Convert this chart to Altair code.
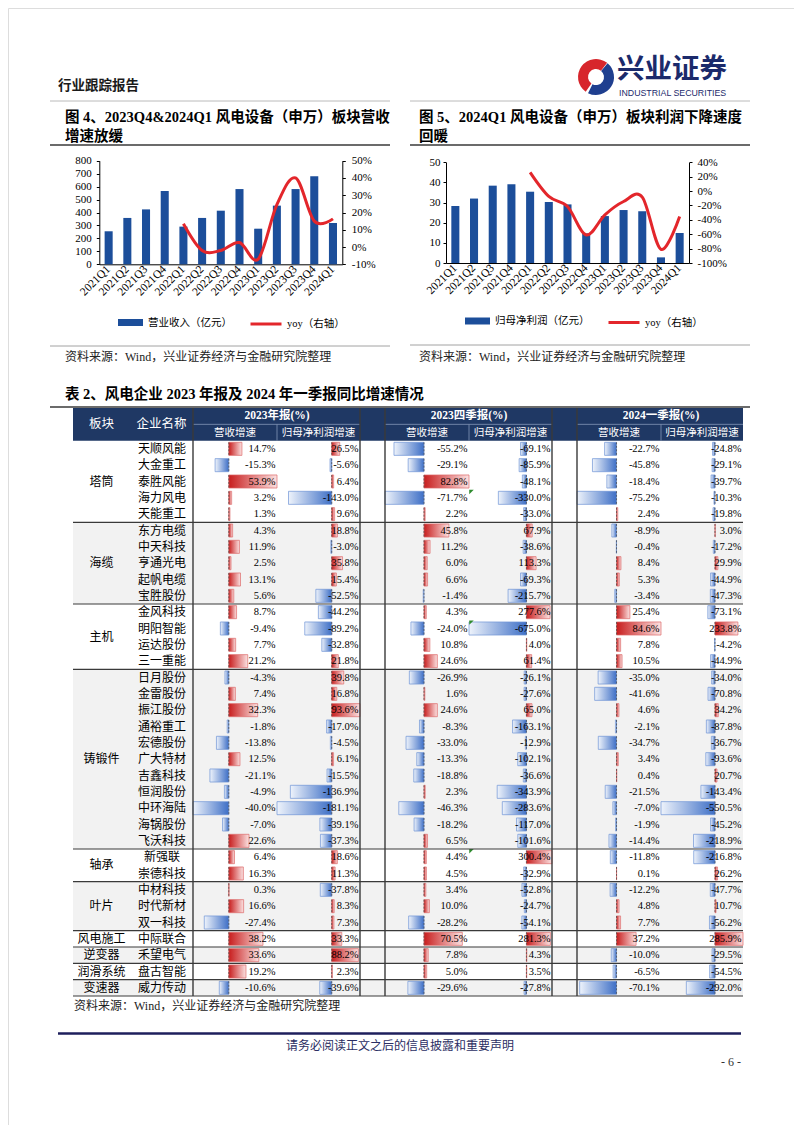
import altair as alt
import pandas as pd

# ------------------------------------------------------------------ data
quarters = ["2021Q1", "2021Q2", "2021Q3", "2021Q4", "2022Q1", "2022Q2", "2022Q3",
            "2022Q4", "2023Q1", "2023Q2", "2023Q3", "2023Q4", "2024Q1"]
revenue = [255, 358, 424, 566, 291, 358, 414, 581, 275, 453, 581, 679, 319]
revenue_yoy = [None, None, None, None, 13.5, -2.0, -2.0, 2.6, -7.0, 24.5, 40.0, 15.0, 16.3]
net_profit = [28.3, 32.0, 38.4, 39.1, 35.4, 30.3, 29.1, 14.7, 23.3, 26.3, 25.7, 2.8, 14.9]
net_profit_yoy = [None, None, None, None, 26.0, -7.5, -21.5, -61.0, -33.0, -14.5, -8.5, -81.0, -35.5]

sectors = ["塔筒", "海缆", "主机", "铸锻件", "轴承", "叶片", "风电施工", "逆变器", "润滑系统", "变速器"]
sector_sizes = [5, 5, 4, 11, 2, 3, 1, 1, 1, 1]
companies = ["天顺风能", "大金重工", "泰胜风能", "海力风电", "天能重工",
             "东方电缆", "中天科技", "亨通光电", "起帆电缆", "宝胜股份",
             "金风科技", "明阳智能", "运达股份", "三一重能",
             "日月股份", "金雷股份", "振江股份", "通裕重工", "宏德股份", "广大特材",
             "吉鑫科技", "恒润股份", "中环海陆", "海锅股份", "飞沃科技",
             "新强联", "崇德科技", "中材科技", "时代新材", "双一科技",
             "中际联合", "禾望电气", "盘古智能", "威力传动"]
rev_2023 = [14.7, -15.3, 53.9, 3.2, 1.3, 4.3, 11.9, 2.5, 13.1, 5.6, 8.7, -9.4, 7.7, 21.2,
            -4.3, 7.4, 32.3, -1.8, -13.8, 12.5, -21.1, -4.9, -40.0, -7.0, 22.6, 6.4, 16.3,
            0.3, 16.6, -27.4, 38.2, 33.6, 19.2, -10.6]
np_2023 = [26.5, -5.6, 6.4, -143.0, 9.6, 18.8, -3.0, 35.8, 15.4, -52.5, -44.2, -89.2, -32.8, 21.8,
           39.8, 16.8, 93.6, -17.0, -4.5, 6.1, -15.5, -136.9, -181.1, -39.1, -37.3, 18.6, 11.3,
           -37.8, 8.3, 7.3, 33.3, 88.2, 2.3, -39.6]
rev_2023q4 = [-55.2, -29.1, 82.8, -71.7, 2.2, 45.8, 11.2, 6.0, 6.6, -1.4, 4.3, -24.0, 10.8, 24.6,
              -26.9, 1.6, 24.6, -8.3, -33.0, -13.3, -18.8, 2.3, -46.3, -18.2, 6.5, 4.4, 4.5,
              3.4, 10.0, -28.2, 70.5, 7.8, 5.0, -29.6]
np_2023q4 = [-69.1, -85.9, -48.1, -330.0, -33.0, 67.9, -38.6, 113.3, -69.3, -215.7, 277.6, -675.0, 4.0, 61.4,
             -26.1, -27.6, 65.0, -163.1, -12.9, -102.1, -36.6, -343.9, -283.6, -117.0, -101.6, 300.4, -32.9,
             -52.8, -24.7, -54.1, 281.3, 4.3, 3.5, -27.8]
rev_2024q1 = [-22.7, -45.8, -18.4, -75.2, 2.4, -8.9, -0.4, 8.4, 5.3, -3.4, 25.4, 84.6, 7.8, 10.5,
              -35.0, -41.6, 4.6, -2.1, -34.7, 3.4, 0.4, -21.5, -7.0, -1.9, -14.4, -11.8, 0.1,
              -12.2, 4.8, 7.7, 37.2, -10.0, -6.5, -70.1]
np_2024q1 = [-24.8, -29.1, -39.7, -10.3, -19.8, 3.0, -17.2, 29.9, -44.9, -47.3, -73.1, 233.8, -4.2, -44.9,
             -34.0, -70.8, 34.2, -87.8, -36.7, -93.6, 20.7, -143.4, -550.5, -45.2, -218.9, -216.8, 26.2,
             -47.7, 10.7, -56.2, 285.9, -29.5, -54.5, -292.0]
flagged_q4_profit = ["海力风电", "明阳智能", "新强联"]

# ------------------------------------------------------------------ style
BLUE = "#1C4E9A"
RED = "#E3262B"
NAVY = "#1F3864"
GRAY_BG = "#F2F2F2"
SERIF = "Liberation Serif"
CJK = "Noto Sans CJK SC"
MIX = "Liberation Serif, Noto Sans CJK SC"
SWATCH = "M-1,-0.28L1,-0.28L1,0.28L-1,0.28Z"

W, H = 786, 1117
OFF = 8
ONE = pd.DataFrame({"k": [0]})


def P(v):
    return v - OFF


def label(s, x, y, size=12, font=CJK, weight="normal", color="#000000", align="left", baseline="middle"):
    return alt.Chart(ONE).mark_text(text=s, font=font, fontSize=size, fontWeight=weight, color=color,
                                    align=align, baseline=baseline).encode(x=alt.value(P(x)), y=alt.value(P(y)))


def hrule(x1, x2, y, color, width):
    return alt.Chart(ONE).mark_rule(color=color, strokeWidth=width).encode(
        x=alt.value(P(x1)), x2=alt.value(P(x2)), y=alt.value(P(y)))


def arc(cx, cy, r_out, r_in, t0, t1, color):
    return alt.Chart(ONE).mark_arc(radius=r_out, radius2=r_in, theta=t0, theta2=t1, color=color).encode(
        x=alt.value(P(cx)), y=alt.value(P(cy)))


layers = []

# ------------------------------------------------------------------ page header
layers += [
    label("行业跟踪报告", 58, 86, 13.5, CJK, "bold", "#1A1A1A"),
    arc(596, 77, 18, 8, 3.75, 6.95, "#D7262C"),
    arc(596, 77, 18, 8, 0.70, 3.60, "#1F3F8F"),
    label("兴业证券", 617, 70, 27.5, CJK, "bold", "#1B2A6B"),
    label("INDUSTRIAL SECURITIES", 619, 93, 8.8, "Liberation Sans", "normal", "#1B2A6B"),
]


# ------------------------------------------------------------------ combo charts
def combo(values, yoy, bar_name, x0, x1, ytop, ybot, ldom, lvals, rdom, rvals,
          lpad, rpad, leg1x, leg2x, legy):
    X0, X1, YT, YB = P(x0), P(x1), P(ytop), P(ybot)
    dfb = pd.DataFrame({"quarter": quarters, "value": values, "series": bar_name})
    dfl = pd.DataFrame({"quarter": quarters, "yoy": yoy, "series": "yoy（右轴）"}).dropna()
    bars = alt.Chart(dfb).mark_bar().encode(
        x=alt.X("quarter:N", sort=quarters, title=None,
                scale=alt.Scale(type="band", domain=quarters, range=[X0, X1],
                                paddingInner=0.57, paddingOuter=0.285),
                axis=alt.Axis(orient="bottom", offset=YB - H, labelAngle=-45, labelAlign="right",
                              labelBaseline="middle", labelFont=SERIF, labelFontSize=11.5,
                              labelColor="#000000", labelPadding=3, ticks=False, domainColor="#000000",
                              grid=False, labelOverlap=False)),
        y=alt.Y("value:Q", title=None,
                scale=alt.Scale(domain=ldom, range=[YB, YT], nice=False, zero=False),
                axis=alt.Axis(orient="left", offset=-X0, values=lvals, labelFont=SERIF, labelFontSize=11,
                              labelColor="#000000", tickColor="#000000", tickSize=3, labelPadding=lpad,
                              domainColor="#000000", grid=False)),
        color=alt.Color("series:N", scale=alt.Scale(domain=[bar_name], range=[BLUE]),
                        legend=alt.Legend(orient="none", legendX=P(leg1x), legendY=P(legy) - 12.5, title=None,
                                          symbolType=SWATCH, symbolSize=625, symbolStrokeWidth=0,
                                          labelFont=CJK, labelFontSize=10.5, labelColor="#000000",
                                          labelOffset=5, padding=0)),
    )
    line = alt.Chart(dfl).mark_line(strokeWidth=3, interpolate="cardinal").encode(
        x=alt.X("quarter:N", sort=quarters, title=None,
                scale=alt.Scale(type="point", domain=quarters, range=[X0, X1], padding=0.5), axis=None),
        y=alt.Y("yoy:Q", title=None,
                scale=alt.Scale(domain=rdom, range=[YB, YT], nice=False, zero=False),
                axis=alt.Axis(orient="right", offset=X1 - W, values=rvals, labelExpr="datum.value + '%'",
                              labelFont=SERIF, labelFontSize=11, labelColor="#000000", tickColor="#000000",
                              tickSize=3, labelPadding=rpad, domainColor="#000000", grid=False)),
        stroke=alt.Stroke("series:N", scale=alt.Scale(domain=["yoy（右轴）"], range=[RED]),
                          legend=alt.Legend(orient="none", legendX=P(leg2x), legendY=P(legy) - 15.5, title=None,
                                            symbolType="stroke", symbolSize=961, symbolStrokeWidth=3,
                                            labelFont=MIX, labelFontSize=10.5, labelColor="#000000",
                                            labelOffset=4, padding=0)),
    )
    return [bars, line]


# figure 4
layers += [
    hrule(50, 390, 101, "#A8A8A8", 0.8),
    label("图 4、2023Q4&2024Q1 风电设备（申万）板块营收", 65, 117.5, 14.5, MIX, "bold"),
    label("增速放缓", 65, 136.5, 14.5, MIX, "bold"),
    hrule(50, 390, 145, "#3A3A3A", 1.5),
]
layers += combo(revenue, revenue_yoy, "营业收入（亿元）", 99.3, 342.3, 160.7, 264.3,
                [0, 800], list(range(0, 801, 100)), [-10, 50], list(range(-10, 51, 10)),
                5, 6, 118, 249, 322.5)
layers += [
    hrule(50, 390, 346, "#8A8A8A", 0.8),
    label("资料来源：Wind，兴业证券经济与金融研究院整理", 65, 357, 12, MIX, "normal", "#222222"),
]

# figure 5
layers += [
    hrule(410, 750, 101, "#A8A8A8", 0.8),
    label("图 5、2024Q1 风电设备（申万）板块利润下降速度", 419, 117.5, 14.5, MIX, "bold"),
    label("回暖", 419, 136.5, 14.5, MIX, "bold"),
    hrule(410, 750, 145, "#3A3A3A", 1.5),
]
layers += combo(net_profit, net_profit_yoy, "归母净利润（亿元）", 446, 689, 162.3, 263,
                [0, 50], list(range(0, 51, 10)), [-100, 40], list(range(-100, 41, 20)),
                3, 5, 465, 607, 321)
layers += [
    hrule(410, 750, 345, "#8A8A8A", 0.8),
    label("资料来源：Wind，兴业证券经济与金融研究院整理", 419, 356.7, 12, MIX, "normal", "#222222"),
]

# ------------------------------------------------------------------ table
layers += [
    label("表 2、风电企业 2023 年报及 2024 年一季报同比增速情况", 65, 395, 14.5, MIX, "bold"),
    hrule(50, 750, 407, "#3A3A3A", 1.5),
]

TX0, TX1 = 73, 743
NROWS = len(companies) + 2
YS = alt.Scale(domain=[0, NROWS], range=[P(408), P(996)], nice=False, zero=False)


def ys(f):
    return alt.Y(f, scale=YS, axis=None, title=None)


def ydatum(v):
    return alt.Y(datum=v, type="quantitative", scale=YS, axis=None, title=None)


row_idx = [i + 2 for i in range(len(companies))]
starts = []
s = 2
for n in sector_sizes:
    starts.append(s)
    s += n
df_groups = pd.DataFrame({"sector": sectors, "g0": starts,
                          "g1": [a + b for a, b in zip(starts, sector_sizes)]})
df_groups["gm"] = (df_groups.g0 + df_groups.g1) / 2
df_groups["bg"] = ["#FFFFFF" if i % 2 == 0 else GRAY_BG for i in range(len(sectors))]

# row backgrounds
layers.append(alt.Chart(df_groups).mark_rect().encode(
    x=alt.value(P(TX0)), x2=alt.value(P(TX1)), y=ys("g0:Q"), y2="g1",
    color=alt.Color("bg:N", scale=None)))
# header background
df_head = pd.DataFrame({"a": [0], "b": [2]})
layers.append(alt.Chart(df_head).mark_rect(color=NAVY).encode(
    x=alt.value(P(TX0)), x2=alt.value(P(TX1)), y=ys("a:Q"), y2="b"))

GRAD_POS = alt.LinearGradient(gradient="linear", x1=0, x2=1, y1=0, y2=0,
                              stops=[alt.GradientStop(color="#C81E1E", offset=0),
                                     alt.GradientStop(color="#FBE1E1", offset=1)])
GRAD_NEG = alt.LinearGradient(gradient="linear", x1=0, x2=1, y1=0, y2=0,
                              stops=[alt.GradientStop(color="#EEF3FB", offset=0),
                                     alt.GradientStop(color="#3E6FC6", offset=1)])


def data_column(values, x0, x1, flagged=None):
    X0, X1 = P(x0), P(x1)
    xs = alt.Scale(domain=[min(values), max(values)], range=[X0, X1], nice=False, zero=False)
    d = pd.DataFrame({"company": companies, "v": values, "row": row_idx})
    d["b0"] = d.row + 0.1
    d["b1"] = d.row + 0.9
    d["mid"] = d.row + 0.5
    d["txt"] = [f"{v:.1f}%" for v in values]
    xenc = alt.X("v:Q", scale=xs, axis=None, title=None)
    out = [
        alt.Chart(d[d.v > 0]).mark_rect(color=GRAD_POS, stroke="#DD6A6A", strokeWidth=0.7).encode(
            x=xenc, x2=alt.datum(0), y=ys("b0:Q"), y2="b1"),
        alt.Chart(d[d.v < 0]).mark_rect(color=GRAD_NEG, stroke="#6E93D6", strokeWidth=0.7).encode(
            x=xenc, x2=alt.datum(0), y=ys("b0:Q"), y2="b1"),
        alt.Chart(d).mark_rule(color="#444444", strokeWidth=0.7, strokeDash=[2, 1.5]).encode(
            x=alt.X(datum=0, type="quantitative", scale=xs, axis=None, title=None), y=ys("b0:Q"), y2="b1"),
        alt.Chart(d).mark_text(align="right", baseline="middle", font=SERIF, fontSize=10.5,
                               color="#000000").encode(x=alt.value(X1 - 1.5), y=ys("mid:Q"), text="txt:N"),
    ]
    if flagged:
        f = d[d.company.isin(flagged)].copy()
        f["top"] = f.row + 0.14
        out.append(alt.Chart(f).mark_point(shape="M-1,-1L1,-1L-1,1Z", size=20, filled=True,
                                           color="#2E8B2E", opacity=1, strokeWidth=0).encode(
            x=alt.value(X0 + 2.5), y=ys("top:Q")))
    return out


layers += data_column(rev_2023, 193, 277)
layers += data_column(np_2023, 277, 360)
layers += data_column(rev_2023q4, 385, 469)
layers += data_column(np_2023q4, 469, 552, flagged_q4_profit)
layers += data_column(rev_2024q1, 577, 661)
layers += data_column(np_2024q1, 661, 743)

# group separators
bounds = pd.DataFrame({"b": list(df_groups.g1)})
layers.append(alt.Chart(bounds).mark_rule(color="#3A3A3A", strokeWidth=1.2).encode(
    x=alt.value(P(TX0)), x2=alt.value(P(TX1)), y=ys("b:Q")))

# light header grid
for (a, b) in [(193, 360), (385, 552), (577, 743)]:
    layers.append(alt.Chart(ONE).mark_rule(color="#8497B8", strokeWidth=0.8).encode(
        x=alt.value(P(a)), x2=alt.value(P(b)), y=ydatum(1)))
for xv in [277, 469, 661]:
    layers.append(alt.Chart(ONE).mark_rule(color="#8497B8", strokeWidth=0.8).encode(
        x=alt.value(P(xv)), y=ydatum(1), y2=alt.datum(2)))

# dark vertical lines
df_full = pd.DataFrame({"a": [0], "b": [NROWS]})
for xv in [193, 360, 385, 552, 577]:
    layers.append(alt.Chart(df_full).mark_rule(color="#3A3A3A", strokeWidth=1.4).encode(
        x=alt.value(P(xv)), y=ys("a:Q"), y2="b"))


def head_text(s, x, yrow, size=11.5, font=CJK, weight="normal"):
    return alt.Chart(ONE).mark_text(text=s, font=font, fontSize=size, fontWeight=weight, color="#FFFFFF",
                                    align="center", baseline="middle").encode(x=alt.value(P(x)), y=ydatum(yrow))


layers += [
    head_text("板块", 101.5, 1.0, 12.5),
    head_text("企业名称", 161.5, 1.0, 12.5),
    head_text("2023年报(%)", 277, 0.52, 11.5, MIX, "bold"),
    head_text("2023四季报(%)", 469, 0.52, 11.5, MIX, "bold"),
    head_text("2024一季报(%)", 661, 0.52, 11.5, MIX, "bold"),
]
for (a, b) in [(193, 277), (385, 469), (577, 661)]:
    layers.append(head_text("营收增速", (a + b) / 2, 1.52, 10.5))
for (a, b) in [(277, 360), (469, 552), (661, 743)]:
    layers.append(head_text("归母净利润增速", (a + b) / 2, 1.52, 10.5))

# company names and sector labels
df_names = pd.DataFrame({"company": companies, "mid": [r + 0.5 for r in row_idx]})
layers.append(alt.Chart(df_names).mark_text(font=CJK, fontSize=12, color="#000000", align="center",
                                            baseline="middle").encode(
    x=alt.value(P(162)), y=ys("mid:Q"), text="company:N"))
layers.append(alt.Chart(df_groups).mark_text(font=CJK, fontSize=12, color="#000000", align="center",
                                             baseline="middle").encode(
    x=alt.value(P(101.5)), y=ys("gm:Q"), text="sector:N"))

# ------------------------------------------------------------------ footer
layers += [
    label("资料来源：Wind，兴业证券经济与金融研究院整理", 74, 1006, 12, MIX, "normal", "#222222"),
    hrule(58, 741, 1033.5, "#1E1F5C", 2.5),
    label("请务必阅读正文之后的信息披露和重要声明", 400, 1046, 12, CJK, "normal", "#2B2E63", "center"),
    label("- 6 -", 741, 1062, 12, SERIF, "normal", "#333333", "right"),
]

chart = alt.layer(*layers).resolve_scale(
    x="independent", y="independent", color="independent", stroke="independent"
).properties(
    width=W, height=H, autosize=alt.AutoSizeParams(type="none"), padding=0
).configure_view(strokeWidth=0).configure(font=CJK)

chart.save("out.html", embed_options={"renderer": "svg", "actions": False})
